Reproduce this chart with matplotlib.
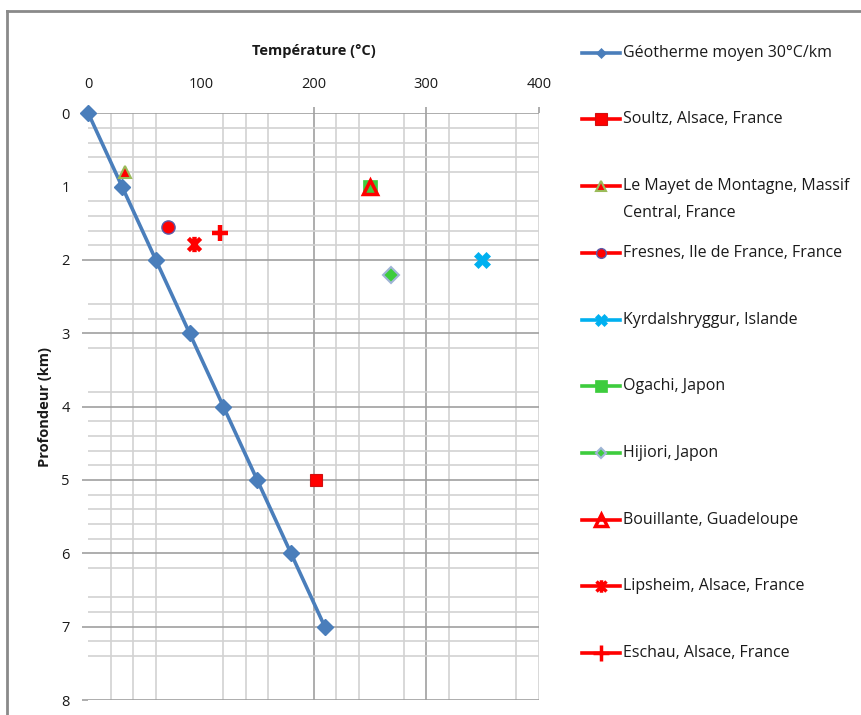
import matplotlib
matplotlib.use("Agg")
import matplotlib.pyplot as plt
from matplotlib.lines import Line2D
from matplotlib.path import Path
from matplotlib.ticker import FixedLocator

plt.rcParams['font.family'] = ['Open Sans', 'DejaVu Sans']

# ---------------- data ----------------
geo_label = "Géotherme moyen 30°C/km"
geo_temp = [0, 30, 60, 90, 120, 150, 180, 210]
geo_depth = [0, 1, 2, 3, 4, 5, 6, 7]

site_names = [
    "Soultz, Alsace, France",
    "Le Mayet de Montagne, Massif\nCentral, France",
    "Fresnes, Ile de France, France",
    "Kyrdalshryggur, Islande",
    "Ogachi, Japon",
    "Hijiori, Japon",
    "Bouillante, Guadeloupe",
    "Lipsheim, Alsace, France",
    "Eschau, Alsace, France",
]
site_temp = [202, 33, 71, 350, 250, 269, 250, 94, 117]
site_depth = [5.0, 0.8, 1.55, 2.0, 1.0, 2.2, 1.0, 1.78, 1.63]

x_major = [0, 100, 200, 300, 400]
y_major = [0, 1, 2, 3, 4, 5, 6, 7, 8]
x_minor = [20, 40, 60, 120, 140, 160, 220, 240, 280, 320, 380]
y_minor = [0.2, 0.4, 0.6, 0.8, 1.2, 1.4, 1.6, 1.8, 2.6, 2.8, 3.2, 3.8,
           4.2, 4.4, 4.6, 4.8, 5.2, 5.4, 5.6, 5.8, 6.2, 6.6, 6.8, 7.2, 7.4]

# ---------------- styles ----------------
star_path = Path([(-1, -1), (1, 1), (-1, 1), (1, -1), (0, -1.25), (0, 1.25)],
                 [Path.MOVETO, Path.LINETO, Path.MOVETO, Path.LINETO,
                  Path.MOVETO, Path.LINETO])

RED = '#ff0000'
GREEN = '#3dcc3d'
CYAN = '#00b0f0'
BLUE = '#4a7ebb'

site_styles = [
    dict(marker='s', ms=9, mfc=RED, mec='#d01010', mew=0.8, line=RED, lms=8),
    dict(marker='^', ms=9, mfc=RED, mec='#9bbb59', mew=1.5, line=RED, lms=7),
    dict(marker='o', ms=9.5, mfc=RED, mec='#5a5aa8', mew=1.0, line=RED, lms=7),
    dict(marker='X', ms=11, mfc=CYAN, mec=CYAN, mew=0.5, line=CYAN, lms=9),
    dict(marker='s', ms=10, mfc=GREEN, mec=GREEN, mew=0.5, line=GREEN, lms=8),
    dict(marker='D', ms=8, mfc=GREEN, mec='#9fb4d6', mew=1.5, line=GREEN, lms=5),
    dict(marker='^', ms=10, mfc='none', mec=RED, mew=2.5, line=RED, lms=8),
    dict(marker=star_path, ms=11, mfc=RED, mec=RED, mew=3.2, line=RED, lms=9),
    dict(marker='+', ms=12, mfc=RED, mec=RED, mew=3.2, line=RED, lms=11),
]

W, H = 861, 715
fig = plt.figure(figsize=(W / 100, H / 100), dpi=100)
fig.patch.set_facecolor('white')

x0p, x1p, y0p, y1p = 88.3, 538.7, 113.3, 700.0
ax = fig.add_axes([x0p / W, 1 - y1p / H, (x1p - x0p) / W, (y1p - y0p) / H])
ax.set_xlim(0, 400)
ax.set_ylim(8, 0)
for s in ax.spines.values():
    s.set_visible(False)

ax.xaxis.tick_top()
ax.xaxis.set_major_locator(FixedLocator(x_major))
ax.yaxis.set_major_locator(FixedLocator(y_major))
ax.xaxis.set_minor_locator(FixedLocator(x_minor))
ax.yaxis.set_minor_locator(FixedLocator(y_minor))
ax.set_xticklabels([str(v) for v in x_major])
ax.set_yticklabels([str(v) for v in y_major])

ax.grid(True, which='major', color='#a0a0a0', lw=1.2)
ax.grid(True, which='minor', color='#d2d2d2', lw=1.2)
ax.set_axisbelow(True)

ax.tick_params(axis='x', which='major', direction='out', length=4, width=1.2,
               color='#a0a0a0', labelsize=10.5, labelcolor='#1a1a1a', pad=11)
ax.tick_params(axis='y', which='major', direction='out', length=4.5, width=1.2,
               color='#a0a0a0', labelsize=10.5, labelcolor='#1a1a1a', pad=9)
ax.tick_params(which='minor', length=0)

# hide grid lines / tick marks that are not shown in the original
for v, tick in zip(x_major, ax.xaxis.get_major_ticks()):
    if v in (0, 100):
        tick.gridline.set_visible(False)
        tick.tick2line.set_visible(False)
    if v == 400:
        tick.gridline.set_color('#d2d2d2')
for v, tick in zip(y_major, ax.yaxis.get_major_ticks()):
    if v == 1:
        tick.gridline.set_visible(False)
        tick.tick1line.set_visible(False)

# geotherm
ax.plot(geo_temp, geo_depth, color=BLUE, lw=2.6, marker='D', ms=8,
        mfc=BLUE, mec=BLUE, zorder=3, clip_on=False)

# sites
for t, d, st in zip(site_temp, site_depth, site_styles):
    ax.plot([t], [d], ls='none', marker=st['marker'], ms=st['ms'],
            mfc=st['mfc'], mec=st['mec'], mew=st['mew'], zorder=4,
            clip_on=False)

# axis titles
fig.text((x0p + x1p) / 2 / W, 1 - 51 / H, "Température (°C)",
         ha='center', va='center', fontsize=10.5, fontweight='bold',
         color='#1a1a1a')
fig.text(45 / W, 1 - 407 / H, "Profondeur (km)", rotation=90,
         ha='center', va='center', fontsize=10.5, fontweight='bold',
         color='#1a1a1a')

# legend (drawn in figure pixel space)
labels = [geo_label] + site_names
leg_styles = [dict(marker='D', mfc=BLUE, mec=BLUE, mew=0.5, line=BLUE, lms=5)] + site_styles
for i, (lab, st) in enumerate(zip(labels, leg_styles)):
    yc = 1 - (52.7 + 66.7 * i) / H
    fig.add_artist(Line2D([582 / W, 620 / W], [yc, yc], color=st['line'], lw=2.6))
    fig.add_artist(Line2D([601 / W], [yc], ls='none', marker=st['marker'],
                          ms=st['lms'], mfc=st['mfc'], mec=st['mec'],
                          mew=min(st['mew'], 2.5)))
    lines = lab.split('\n')
    for j, part in enumerate(lines):
        fig.text(623 / W, yc - j * 26.5 / H, part, ha='left', va='center',
                 fontsize=11.5, color='#1a1a1a')

# outer frame (left and top edges visible)
fig.add_artist(Line2D([7 / W, 7 / W], [0, 1 - 11 / H], color='#8a8a8a', lw=2))
fig.add_artist(Line2D([7 / W, 1], [1 - 11 / H, 1 - 11 / H], color='#8a8a8a', lw=2))

fig.savefig("out.png", dpi=100, facecolor='white')
